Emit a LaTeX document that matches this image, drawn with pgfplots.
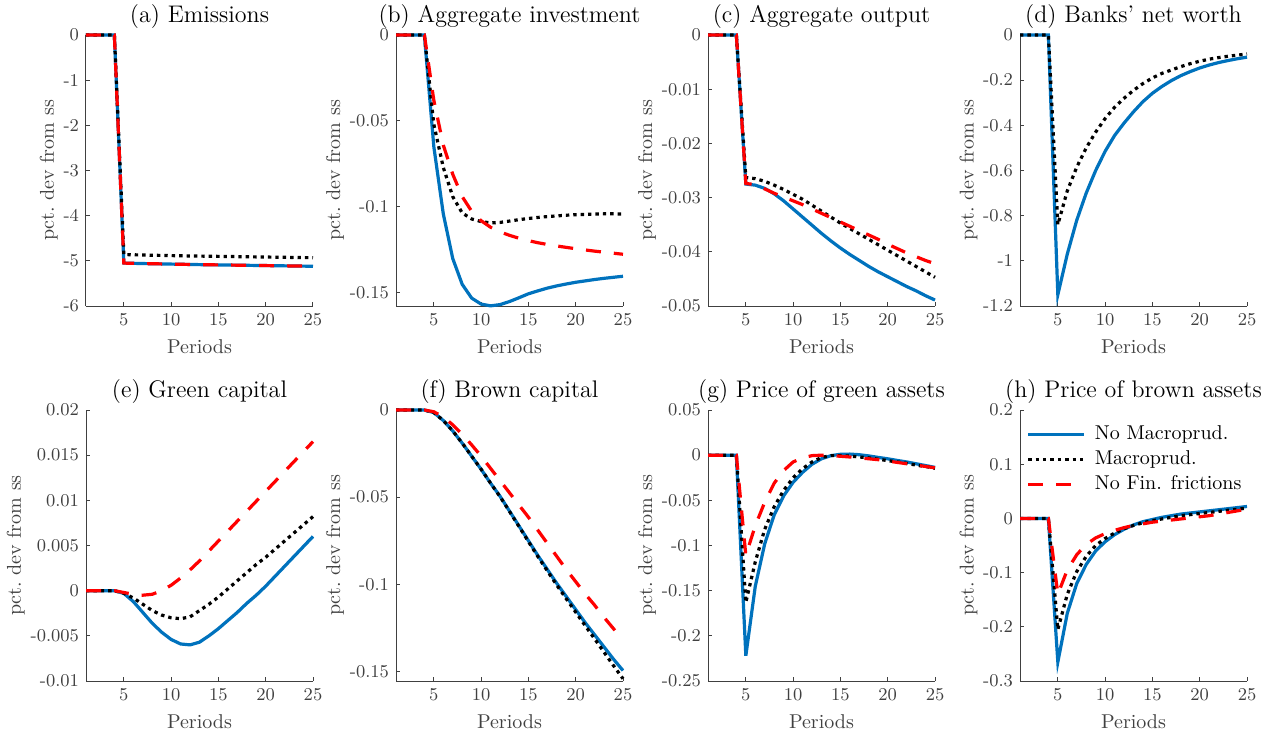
\documentclass[border=0pt]{standalone}
\usepackage{pgfplots}
\usepackage{pgfplotstable}
\pgfplotsset{compat=1.18}
\definecolor{mblue}{rgb}{0,0.447,0.741}
\definecolor{axgray}{rgb}{0.25,0.25,0.25}

\pgfplotstableread{
t nm mp nf
1 0 0 0
2 0 0 0
3 0 0 0
4 0 0 0
5 -5.050 -4.860 -5.050
6 -5.055 -4.866 -5.055
7 -5.060 -4.871 -5.060
8 -5.064 -4.876 -5.064
9 -5.068 -4.880 -5.068
10 -5.072 -4.884 -5.072
11 -5.076 -4.888 -5.076
12 -5.080 -4.892 -5.080
13 -5.084 -4.895 -5.084
14 -5.087 -4.898 -5.087
15 -5.090 -4.901 -5.090
16 -5.093 -4.904 -5.093
17 -5.096 -4.907 -5.096
18 -5.099 -4.910 -5.099
19 -5.102 -4.913 -5.102
20 -5.105 -4.916 -5.105
21 -5.108 -4.919 -5.108
22 -5.111 -4.922 -5.111
23 -5.114 -4.925 -5.114
24 -5.117 -4.928 -5.117
25 -5.120 -4.930 -5.120
}\tA

\pgfplotstableread{
t nm mp nf
1 0 0 0
2 0 0 0
3 0 0 0
4 0 0 0
5 -0.0650 -0.0520 -0.0380
6 -0.1040 -0.0770 -0.0640
7 -0.1300 -0.0940 -0.0810
8 -0.1450 -0.1035 -0.0940
9 -0.1530 -0.1070 -0.1025
10 -0.1565 -0.1085 -0.1080
11 -0.1575 -0.1093 -0.1118
12 -0.1568 -0.1090 -0.1145
13 -0.1550 -0.1082 -0.1165
14 -0.1528 -0.1074 -0.1182
15 -0.1505 -0.1067 -0.1196
16 -0.1488 -0.1061 -0.1208
17 -0.1472 -0.1056 -0.1218
18 -0.1459 -0.1052 -0.1227
19 -0.1448 -0.1048 -0.1235
20 -0.1438 -0.1045 -0.1243
21 -0.1430 -0.1043 -0.1250
22 -0.1422 -0.1041 -0.1257
23 -0.1415 -0.1040 -0.1263
24 -0.1409 -0.1040 -0.1269
25 -0.1403 -0.1041 -0.1275
}\tB

\pgfplotstableread{
t nm mp nf
1 0 0 0
2 0 0 0
3 0 0 0
4 0 0 0
5 -0.0275 -0.0263 -0.0274
6 -0.0277 -0.0265 -0.0276
7 -0.0283 -0.0270 -0.0284
8 -0.0293 -0.0277 -0.0292
9 -0.0306 -0.0285 -0.0299
10 -0.0321 -0.0294 -0.0306
11 -0.0336 -0.0303 -0.0313
12 -0.0351 -0.0314 -0.0321
13 -0.0366 -0.0325 -0.0329
14 -0.0380 -0.0336 -0.0337
15 -0.0393 -0.0347 -0.0345
16 -0.0405 -0.0357 -0.0353
17 -0.0416 -0.0367 -0.0361
18 -0.0427 -0.0377 -0.0369
19 -0.0437 -0.0387 -0.0377
20 -0.0446 -0.0397 -0.0386
21 -0.0455 -0.0407 -0.0394
22 -0.0464 -0.0417 -0.0402
23 -0.0472 -0.0427 -0.0409
24 -0.0481 -0.0437 -0.0416
25 -0.0489 -0.0447 -0.0422
}\tC

\pgfplotstableread{
t nm mp
1 0 0
2 0 0
3 0 0
4 0 0
5 -1.150 -0.840
6 -0.970 -0.690
7 -0.820 -0.585
8 -0.700 -0.500
9 -0.600 -0.430
10 -0.515 -0.370
11 -0.445 -0.320
12 -0.390 -0.280
13 -0.340 -0.245
14 -0.295 -0.215
15 -0.258 -0.190
16 -0.228 -0.170
17 -0.202 -0.155
18 -0.180 -0.140
19 -0.162 -0.127
20 -0.146 -0.116
21 -0.133 -0.107
22 -0.122 -0.100
23 -0.113 -0.094
24 -0.105 -0.089
25 -0.098 -0.084
}\tD

\pgfplotstableread{
t nm mp nf
1 0 0 0
2 0 0 0
3 0 0 0
4 0 0 0
5 -0.0003 -0.0003 -0.0002
6 -0.0012 -0.0008 -0.0004
7 -0.0024 -0.0015 -0.0005
8 -0.0036 -0.0022 -0.0004
9 -0.0046 -0.0027 0.0000
10 -0.0054 -0.0030 0.0006
11 -0.0059 -0.0031 0.0014
12 -0.0060 -0.0029 0.0023
13 -0.0057 -0.0022 0.0033
14 -0.0050 -0.0015 0.0044
15 -0.0042 -0.0007 0.0055
16 -0.0033 0.0002 0.0066
17 -0.0024 0.0011 0.0077
18 -0.0014 0.0020 0.0088
19 -0.0005 0.0029 0.0099
20 0.0005 0.0037 0.0110
21 0.0016 0.0046 0.0121
22 0.0027 0.0055 0.0132
23 0.0038 0.0064 0.0143
24 0.0049 0.0073 0.0154
25 0.0060 0.0082 0.0165
}\tE

\pgfplotstableread{
t nm mp nf
1 0 0 0
2 0 0 0
3 0 0 0
4 0 0 0
5 -0.0015 -0.0015 -0.0010
6 -0.0060 -0.0060 -0.0040
7 -0.0120 -0.0120 -0.0085
8 -0.0190 -0.0190 -0.0140
9 -0.0265 -0.0265 -0.0200
10 -0.0340 -0.0340 -0.0265
11 -0.0420 -0.0420 -0.0335
12 -0.0495 -0.0497 -0.0405
13 -0.0580 -0.0582 -0.0475
14 -0.0665 -0.0668 -0.0545
15 -0.0750 -0.0755 -0.0615
16 -0.0835 -0.0841 -0.0690
17 -0.0915 -0.0923 -0.0765
18 -0.0995 -0.1005 -0.0840
19 -0.1070 -0.1083 -0.0915
20 -0.1145 -0.1160 -0.0985
21 -0.1220 -0.1237 -0.1055
22 -0.1290 -0.1313 -0.1120
23 -0.1360 -0.1390 -0.1190
24 -0.1430 -0.1467 -0.1255
25 -0.1495 -0.1542 -0.1320
}\tF

\pgfplotstableread{
t nm mp nf
1 0 0 0
2 0 0 0
3 0 0 0
4 0 0 0
5 -0.2220 -0.1630 -0.1110
6 -0.1450 -0.1180 -0.0780
7 -0.0980 -0.0820 -0.0520
8 -0.0660 -0.0570 -0.0310
9 -0.0450 -0.0390 -0.0170
10 -0.0300 -0.0250 -0.0075
11 -0.0190 -0.0150 -0.0030
12 -0.0100 -0.0075 -0.0005
13 -0.0040 -0.0025 0.0000
14 -0.0005 -0.0005 -0.0005
15 0.0010 -0.0005 -0.0012
16 0.0012 -0.0010 -0.0020
17 0.0005 -0.0020 -0.0030
18 -0.0008 -0.0030 -0.0040
19 -0.0025 -0.0045 -0.0050
20 -0.0040 -0.0060 -0.0065
21 -0.0058 -0.0075 -0.0080
22 -0.0075 -0.0090 -0.0095
23 -0.0095 -0.0110 -0.0110
24 -0.0115 -0.0125 -0.0125
25 -0.0135 -0.0145 -0.0140
}\tG

\pgfplotstableread{
t nm mp nf
1 0 0 0
2 0 0 0
3 0 0 0
4 0 0 0
5 -0.265 -0.205 -0.140
6 -0.175 -0.140 -0.095
7 -0.120 -0.098 -0.067
8 -0.085 -0.070 -0.048
9 -0.060 -0.050 -0.036
10 -0.043 -0.037 -0.028
11 -0.030 -0.027 -0.022
12 -0.020 -0.019 -0.017
13 -0.012 -0.013 -0.013
14 -0.006 -0.008 -0.010
15 -0.002 -0.004 -0.007
16 0.002 -0.001 -0.005
17 0.005 0.002 -0.003
18 0.008 0.005 -0.001
19 0.010 0.007 0.001
20 0.012 0.009 0.003
21 0.014 0.011 0.005
22 0.016 0.013 0.008
23 0.018 0.015 0.011
24 0.020 0.017 0.014
25 0.022 0.019 0.017
}\tH

\pgfplotsset{
  every axis title shift=0pt,
  irf/.style={
    scale only axis, width=113.5pt, height=135.5pt,
    anchor=south west,
    xmin=1, xmax=25,
    xtick={5,10,15,20,25}, xticklabels={5,10,15,20,25},
    scaled x ticks=false, scaled y ticks=false,
    axis x line*=bottom, axis y line*=left,
    axis line style={axgray, line width=0.5pt, -},
    tick align=inside, major tick length=1.8pt,
    tick style={axgray, line width=0.5pt},
    ticklabel style={font=\fontsize{9}{10}\selectfont, text=axgray},
    xlabel={Periods}, ylabel={pct.\ dev from ss},
    label style={font=\fontsize{10}{12}\selectfont, text=axgray},
    ylabel shift=-4pt,
    title style={font=\fontsize{12}{14}\selectfont, at={(0.5,1)}, anchor=base, yshift=6.5pt},
    clip=false,
  },
  nmS/.style={mblue, line width=1.6pt},
  mpS/.style={black, line width=1.6pt, dash pattern=on 1.7pt off 2pt},
  nfS/.style={red, line width=1.6pt, dash pattern=on 7.5pt off 6.5pt},
}

\begin{document}
\begin{tikzpicture}
\useasboundingbox (0,0) rectangle (638pt,-367pt);

\begin{axis}[irf, at={(43pt,-153pt)}, title={(a) Emissions},
  ymin=-6, ymax=0, ytick={-6,-5,-4,-3,-2,-1,0}, yticklabels={-6,-5,-4,-3,-2,-1,0}]
\addplot[nmS] table[x=t,y=nm]{\tA};
\addplot[mpS] table[x=t,y=mp]{\tA};
\addplot[nfS] table[x=t,y=nf]{\tA};
\end{axis}

\begin{axis}[irf, at={(198pt,-153pt)}, title={(b) Aggregate investment},
  ymin=-0.1576, ymax=0, ytick={-0.15,-0.1,-0.05,0}, yticklabels={-0.15,-0.1,-0.05,0}]
\addplot[nmS] table[x=t,y=nm]{\tB};
\addplot[mpS] table[x=t,y=mp]{\tB};
\addplot[nfS] table[x=t,y=nf]{\tB};
\end{axis}

\begin{axis}[irf, at={(354pt,-153pt)}, title={(c) Aggregate output},
  ymin=-0.05, ymax=0, ytick={-0.05,-0.04,-0.03,-0.02,-0.01,0}, yticklabels={-0.05,-0.04,-0.03,-0.02,-0.01,0}]
\addplot[nmS] table[x=t,y=nm]{\tC};
\addplot[mpS] table[x=t,y=mp]{\tC};
\addplot[nfS] table[x=t,y=nf]{\tC};
\end{axis}

\begin{axis}[irf, at={(510pt,-153pt)}, title={(d) Banks' net worth},
  ymin=-1.2, ymax=0, ytick={-1.2,-1,-0.8,-0.6,-0.4,-0.2,0}, yticklabels={-1.2,-1,-0.8,-0.6,-0.4,-0.2,0}]
\addplot[nmS] table[x=t,y=nm]{\tD};
\addplot[mpS] table[x=t,y=mp]{\tD};
\end{axis}

\begin{axis}[irf, at={(43pt,-340.5pt)}, title={(e) Green capital},
  ymin=-0.01, ymax=0.02, ytick={-0.01,-0.005,0,0.005,0.01,0.015,0.02}, yticklabels={-0.01,-0.005,0,0.005,0.01,0.015,0.02}]
\addplot[nmS] table[x=t,y=nm]{\tE};
\addplot[mpS] table[x=t,y=mp]{\tE};
\addplot[nfS] table[x=t,y=nf]{\tE};
\end{axis}

\begin{axis}[irf, at={(198pt,-340.5pt)}, title={(f) Brown capital},
  ymin=-0.1555, ymax=0, ytick={-0.15,-0.1,-0.05,0}, yticklabels={-0.15,-0.1,-0.05,0}]
\addplot[nmS] table[x=t,y=nm]{\tF};
\addplot[mpS] table[x=t,y=mp]{\tF};
\addplot[nfS] table[x=t,y=nf]{\tF};
\end{axis}

\begin{axis}[irf, at={(354pt,-340.5pt)}, title={(g) Price of green assets},
  ymin=-0.25, ymax=0.05, ytick={-0.25,-0.2,-0.15,-0.1,-0.05,0,0.05}, yticklabels={-0.25,-0.2,-0.15,-0.1,-0.05,0,0.05}]
\addplot[nmS] table[x=t,y=nm]{\tG};
\addplot[mpS] table[x=t,y=mp]{\tG};
\addplot[nfS] table[x=t,y=nf]{\tG};
\end{axis}

\begin{axis}[irf, at={(510pt,-340.5pt)}, title={(h) Price of brown assets},
  ymin=-0.3, ymax=0.2, ytick={-0.3,-0.2,-0.1,0,0.1,0.2}, yticklabels={-0.3,-0.2,-0.1,0,0.1,0.2},
  legend cell align=left,
  legend style={at={(0.01,0.99)}, anchor=north west, draw=none, fill=none,
    font=\fontsize{10}{12}\selectfont, row sep=0pt, column sep=2.5pt, inner sep=1pt,
    yshift=-3.5pt, xshift=1pt},
  legend image code/.code={\draw[#1] (0pt,0pt) -- (28pt,0pt);}]
\addplot[nmS] table[x=t,y=nm]{\tH};
\addlegendentry{No Macroprud.}
\addplot[mpS] table[x=t,y=mp]{\tH};
\addlegendentry{Macroprud.}
\addplot[nfS] table[x=t,y=nf]{\tH};
\addlegendentry{No Fin. frictions}
\end{axis}

\end{tikzpicture}
\end{document}
